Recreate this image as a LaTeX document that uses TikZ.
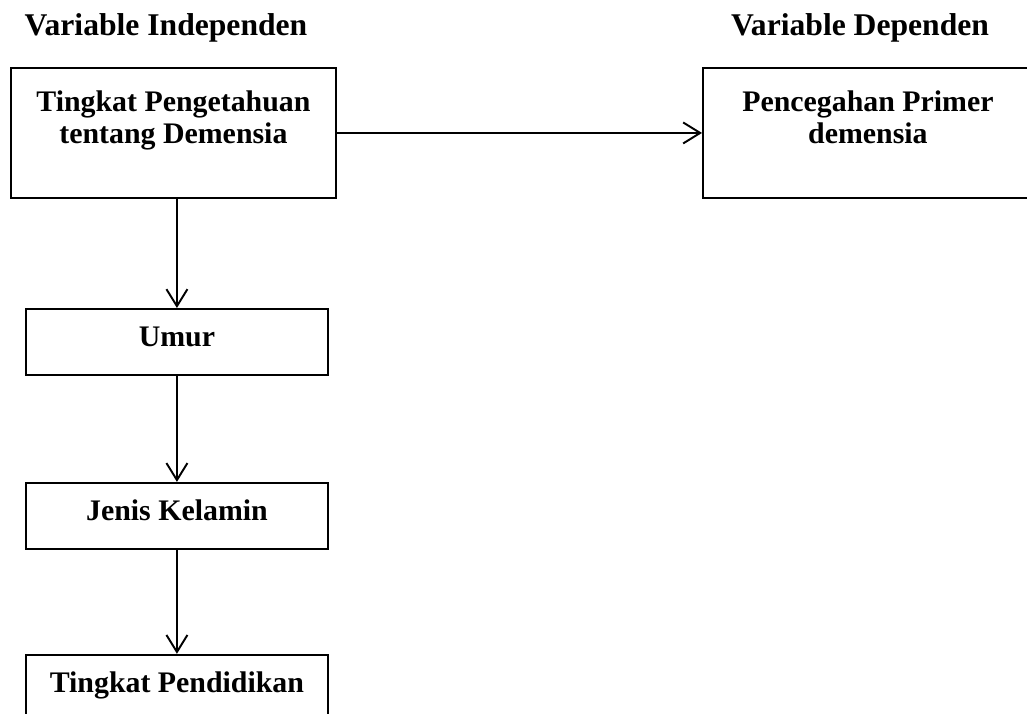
\documentclass[tikz,border=0pt]{standalone}
\usepackage{fontspec}
\setmainfont{Liberation Serif}
\usetikzlibrary{positioning,arrows.meta}

\tikzset{
  varbox/.style={draw, line width=1.1pt, inner xsep=0pt, inner ysep=0pt, font=\bfseries\fontsize{17}{18.5}\selectfont},
  smallbox/.style={varbox, minimum width=6.04cm, minimum height=1.32cm, text height=0.42cm, text depth=0.22cm},
  title/.style={font=\bfseries\fontsize{18}{20}\selectfont},
  flow/.style={line width=1.1pt, -{Straight Barb[length=0.34cm, width=0.42cm, line width=1.1pt]}}
}

\begin{document}
\begin{tikzpicture}[x=0.02cm, y=-0.02cm]
    \useasboundingbox (0,0) rectangle (1027,713);

    % Headings
    \node[title] (titleindep) at (166, 28) {Variable Independen};
    \node[title] (titledep) at (860, 28) {Variable Dependen};

    % Independent variable
    \node[varbox, anchor=north west, inner ysep=0.45cm] (know) at (10, 67) {
      \begin{minipage}[t][1.7cm][t]{6.5cm}
        \centering
        Tingkat Pengetahuan \\
        tentang Demensia
      \end{minipage}
    };

    % Dependent variable
    \node[varbox, anchor=north west, inner ysep=0.45cm] (prev) at (702, 67) {
      \begin{minipage}[t][1.7cm][t]{6.6cm}
        \centering
        Pencegahan Primer \\
        demensia
      \end{minipage}
    };

    % Characteristics
    \node[smallbox, anchor=north west] (umur) at (25, 308) {Umur};
    \node[smallbox, below=2.12cm of umur] (jenis) {Jenis Kelamin};
    \node[smallbox, below=2.08cm of jenis] (didik) {Tingkat Pendidikan};

    % Arrows
    \draw[flow] (know.east) -- (prev.west);
    \draw[flow] (know.south -| umur.north) -- (umur.north);
    \draw[flow] (umur.south) -- (jenis.north);
    \draw[flow] (jenis.south) -- (didik.north);
  \end{tikzpicture}
\end{document}
